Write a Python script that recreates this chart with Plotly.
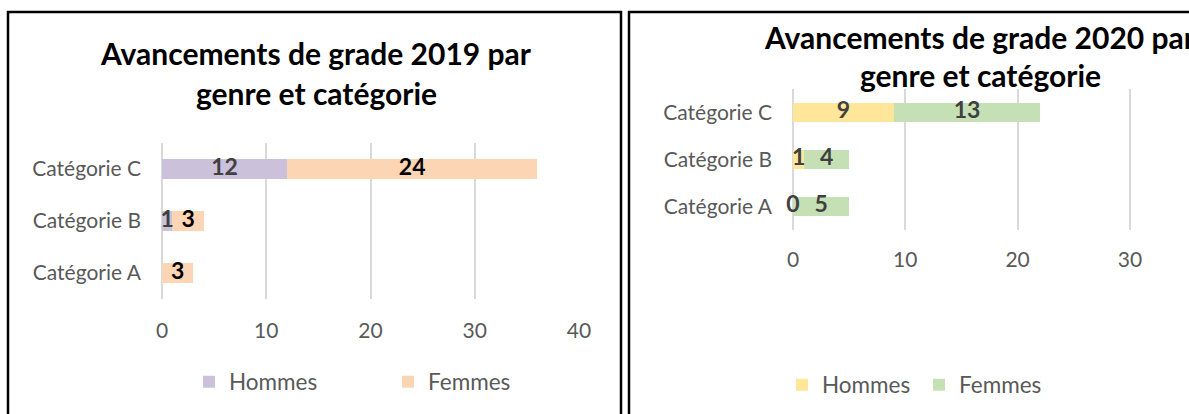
import plotly.graph_objects as go

W, H = 1189, 414

categories = ["Catégorie A", "Catégorie B", "Catégorie C"]

# 2019
hommes_2019 = [None, 1, 12]
femmes_2019 = [3, 3, 24]
# 2020
hommes_2020 = [0, 1, 9]
femmes_2020 = [5, 4, 13]

tick_vals_2019 = [0, 10, 20, 30, 40]
tick_vals_2020 = [0, 10, 20, 30, 40]

title_2019 = ["Avancements de grade 2019 par", "genre et catégorie"]
title_2020 = ["Avancements de grade 2020 par", "genre et catégorie"]

C_H19, C_F19 = "#CCC1DA", "#FCD5B5"
C_H20, C_F20 = "#FFE699", "#C5E0B4"
GREY_TXT = "#595959"
LBL_DARK = "#404040"
FONT = "Lato"


def px(x):
    return x / W


def py(y):
    return 1 - y / H


def mid(base, vals):
    out = []
    for b, v in zip(base, vals):
        out.append(None if v is None else (b or 0) + v / 2)
    return out


def labels(vals):
    return ["" if v is None else str(v) for v in vals]


fig = go.Figure()

# ---- 2019 bars
fig.add_trace(go.Bar(y=categories, x=hommes_2019, orientation="h", name="Hommes",
                     marker=dict(color=C_H19, line_width=0), width=0.4,
                     xaxis="x", yaxis="y", legend="legend", hoverinfo="skip"))
fig.add_trace(go.Bar(y=categories, x=femmes_2019, orientation="h", name="Femmes",
                     marker=dict(color=C_F19, line_width=0), width=0.4,
                     xaxis="x", yaxis="y", legend="legend", hoverinfo="skip"))
# ---- 2020 bars
fig.add_trace(go.Bar(y=categories, x=hommes_2020, orientation="h", name="Hommes",
                     marker=dict(color=C_H20, line_width=0), width=0.4,
                     xaxis="x2", yaxis="y2", legend="legend2", hoverinfo="skip"))
fig.add_trace(go.Bar(y=categories, x=femmes_2020, orientation="h", name="Femmes",
                     marker=dict(color=C_F20, line_width=0), width=0.4,
                     xaxis="x2", yaxis="y2", legend="legend2", hoverinfo="skip"))

# ---- data labels
lab_font = dict(family=FONT, size=23, color=LBL_DARK, weight="bold")
fig.add_trace(go.Scatter(x=mid([0, 0, 0], hommes_2019), y=categories, mode="text",
                         text=labels(hommes_2019), textfont=lab_font, cliponaxis=False,
                         xaxis="x", yaxis="y", showlegend=False, hoverinfo="skip"))
fig.add_trace(go.Scatter(x=mid(hommes_2019, femmes_2019), y=categories, mode="text",
                         text=labels(femmes_2019), textfont=dict(lab_font, color="#000000"),
                         cliponaxis=False,
                         xaxis="x", yaxis="y", showlegend=False, hoverinfo="skip"))
fig.add_trace(go.Scatter(x=mid([0, 0, 0], hommes_2020), y=categories, mode="text",
                         text=labels(hommes_2020), textfont=lab_font, cliponaxis=False,
                         xaxis="x2", yaxis="y2", showlegend=False, hoverinfo="skip"))
fig.add_trace(go.Scatter(x=mid(hommes_2020, femmes_2020), y=categories, mode="text",
                         text=labels(femmes_2020), textfont=lab_font, cliponaxis=False,
                         xaxis="x2", yaxis="y2", showlegend=False, hoverinfo="skip"))

tick_font = dict(family=FONT, size=21, color=GREY_TXT)
common_x = dict(showgrid=True, gridcolor="#D9D9D9", gridwidth=1.5, zeroline=True,
                zerolinecolor="#D9D9D9", zerolinewidth=1.5,
                showline=False, ticks="", tickfont=tick_font, fixedrange=True,
                automargin=False)
common_y = dict(type="category", categoryorder="array", categoryarray=categories,
                range=[-0.5, 2.5], showgrid=False, zeroline=False, showline=False,
                ticks="", tickfont=tick_font, fixedrange=True, ticklabelstandoff=20,
                automargin=False)

fig.update_layout(
    width=W, height=H,
    margin=dict(l=0, r=0, t=0, b=0, autoexpand=False),
    paper_bgcolor="white", plot_bgcolor="white",
    barmode="stack", bargap=0.6,
    font=dict(family=FONT, color=GREY_TXT),
    xaxis=dict(common_x, domain=[px(162), px(579)], range=[0, 40],
               tickvals=tick_vals_2019, anchor="y", ticklabelstandoff=17),
    yaxis=dict(common_y, domain=[py(299), py(143)], anchor="x"),
    xaxis2=dict(common_x, domain=[px(793), 1.0], range=[0, (W - 793) / 112.3 * 10],
                tickvals=tick_vals_2020, anchor="y2", ticklabelstandoff=15),
    yaxis2=dict(common_y, domain=[py(230), py(89)], anchor="x2"),
    legend=dict(orientation="h", x=px(189), y=py(382), xanchor="left", yanchor="middle",
                font=dict(family=FONT, size=22.5, color=GREY_TXT), entrywidth=154,
                entrywidthmode="pixels", bgcolor="rgba(0,0,0,0)", traceorder="normal"),
    legend2=dict(orientation="h", x=px(782), y=py(385), xanchor="left", yanchor="middle",
                 font=dict(family=FONT, size=22.5, color=GREY_TXT), entrywidth=92,
                 entrywidthmode="pixels", bgcolor="rgba(0,0,0,0)", traceorder="normal"),
    showlegend=True,
)

title_font = dict(family=FONT, size=30, color="#000000", weight="bold")
anns = []
for txt, yy in zip(title_2019, [53, 93]):
    anns.append(dict(text=txt, x=px(316), y=py(yy), xref="paper", yref="paper",
                     xanchor="center", yanchor="middle", showarrow=False, font=title_font))
for txt, yy in zip(title_2020, [37, 75]):
    anns.append(dict(text=txt, x=px(980), y=py(yy), xref="paper", yref="paper",
                     xanchor="center", yanchor="middle", showarrow=False, font=title_font))
fig.update_layout(annotations=anns)

# panel borders
fig.add_shape(type="rect", xref="paper", yref="paper", x0=px(8), x1=px(621),
              y0=py(430), y1=py(12), line=dict(color="#000000", width=2.5),
              fillcolor="rgba(0,0,0,0)", layer="above")
fig.add_shape(type="rect", xref="paper", yref="paper", x0=px(629), x1=px(1200),
              y0=py(430), y1=py(12), line=dict(color="#000000", width=2.5),
              fillcolor="rgba(0,0,0,0)", layer="above")

fig.write_html(
    "out.html",
    config=dict(displayModeBar=False),
    post_script="document.body.style.margin='0px';document.body.style.overflow='hidden';",
)
